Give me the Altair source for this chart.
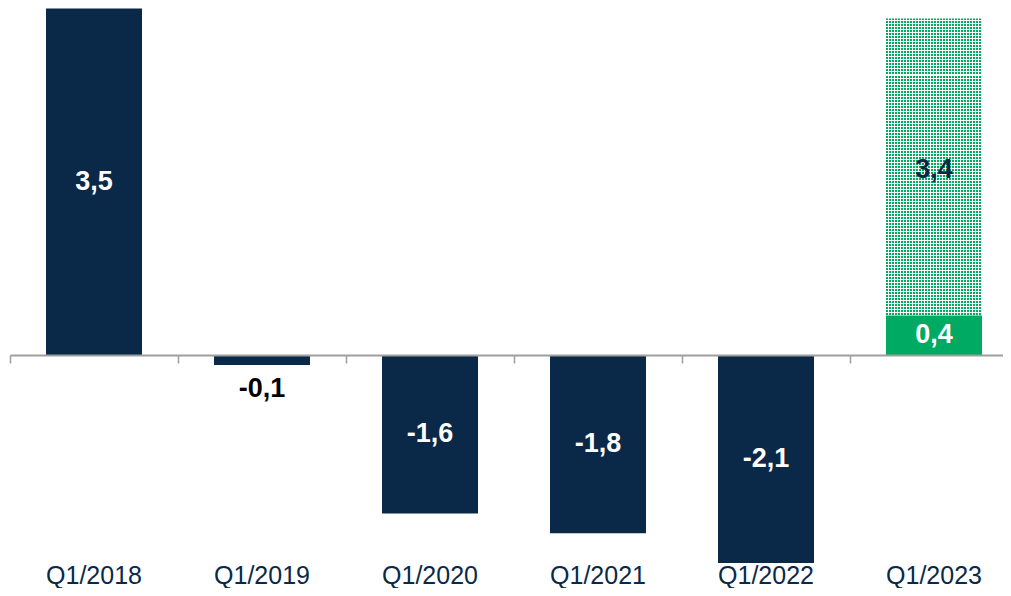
import altair as alt
import pandas as pd

# ---- data ----
categories = ["Q1/2018", "Q1/2019", "Q1/2020", "Q1/2021", "Q1/2022", "Q1/2023"]
values = [3.5, -0.1, -1.6, -1.8, -2.1, 0.4]
kinds = ["past", "past", "past", "past", "past", "latest"]
forecast_categories = ["Q1/2023"]
forecast_values = [3.4]

NAVY = "#0A2948"
GREEN = "#00AA63"
AXIS_GRAY = "#9E9E9E"
FONT = "Liberation Sans"


def fmt(v):
    return f"{v:.1f}".replace(".", ",")


df = pd.DataFrame({
    "cat": categories,
    "value": values,
    "kind": kinds,
    "label": [fmt(v) for v in values],
})
fc = pd.DataFrame({
    "cat": forecast_categories,
    "value": forecast_values,
    "base": [values[categories.index(c)] for c in forecast_categories],
    "label": [fmt(v) for v in forecast_values],
})

W, H = 995, 580
ZERO_Y = 347
PX_PER_UNIT = 99
x_scale = alt.Scale(domain=categories, range=[2, 1010], paddingInner=0, paddingOuter=0)
y_scale = alt.Scale(domain=[-(H - ZERO_Y) / PX_PER_UNIT, ZERO_Y / PX_PER_UNIT], nice=False, zero=False)
BAR_W = alt.RelativeBandSize(band=96 / 168)

label_axis = alt.Axis(orient="bottom", domain=False, ticks=False, tickSize=0,
                      labelPadding=0, labelBaseline="alphabetic", offset=-5,
                      labelFont=FONT, labelFontSize=25, labelColor=NAVY,
                      labelAngle=0, title=None, grid=False)
zero_axis = alt.Axis(orient="bottom", offset=ZERO_Y - H, labels=False, domain=True,
                     domainColor=AXIS_GRAY, domainWidth=2, ticks=True, tickSize=8,
                     tickColor=AXIS_GRAY, tickWidth=1.5, bandPosition=0,
                     title=None, grid=False, zindex=1)

# dotted pattern = vertical green stripes crossed by horizontal white stripes
nx, ny = 32, 112
frac = 2 / 3
vstops = []
for i in range(nx):
    a, b, c = i / nx, (i + frac) / nx, (i + 1) / nx
    vstops += [alt.GradientStop(offset=a, color=GREEN), alt.GradientStop(offset=b, color=GREEN),
               alt.GradientStop(offset=b, color="#ffffff"), alt.GradientStop(offset=c, color="#ffffff")]
hstops = []
for j in range(ny):
    a, b, c = j / ny, (j + frac) / ny, (j + 1) / ny
    hstops += [alt.GradientStop(offset=a, color="rgba(255,255,255,0)"),
               alt.GradientStop(offset=b, color="rgba(255,255,255,0)"),
               alt.GradientStop(offset=b, color="#ffffff"), alt.GradientStop(offset=c, color="#ffffff")]
vgrad = alt.LinearGradient(gradient="linear", x1=0, x2=1, y1=0, y2=0, stops=vstops)
hgrad = alt.LinearGradient(gradient="linear", x1=0, x2=0, y1=0, y2=1, stops=hstops)

fc_base = alt.Chart(fc).transform_calculate(zero="0")
dots_v = fc_base.mark_bar(width=BAR_W, fill=vgrad, strokeWidth=0).encode(
    x=alt.X("cat:N", scale=x_scale, axis=None),
    y=alt.Y("value:Q", scale=y_scale, axis=None),
    y2="zero:Q",
)
dots_h = fc_base.mark_bar(width=BAR_W, fill=hgrad, strokeWidth=0).encode(
    x=alt.X("cat:N", scale=x_scale, axis=None),
    y=alt.Y("value:Q", scale=y_scale, axis=None),
    y2="zero:Q",
)

base = alt.Chart(df).transform_calculate(zero="0", mid="datum.value / 2")
bars = base.mark_bar(width=BAR_W, strokeWidth=0).encode(
    x=alt.X("cat:N", scale=x_scale, axis=label_axis),
    y=alt.Y("value:Q", scale=y_scale, axis=None),
    y2="zero:Q",
    color=alt.Color("kind:N", scale=alt.Scale(domain=["past", "latest"], range=[NAVY, GREEN]), legend=None),
)
inside = base.transform_filter("abs(datum.value) >= 0.3").mark_text(
    font=FONT, fontSize=27, fontWeight="bold", color="white", baseline="middle"
).encode(
    x=alt.X("cat:N", scale=x_scale, axis=zero_axis),
    y=alt.Y("mid:Q", scale=y_scale, axis=None),
    text="label:N",
)
outside = base.transform_filter("abs(datum.value) < 0.3").mark_text(
    font=FONT, fontSize=27, fontWeight="bold", color="black", baseline="top", dy=11
).encode(
    x=alt.X("cat:N", scale=x_scale, axis=None),
    y=alt.Y("value:Q", scale=y_scale, axis=None),
    text="label:N",
)
fc_text = fc_base.transform_calculate(mid="(datum.base + datum.value) / 2").mark_text(
    font=FONT, fontSize=27, fontWeight="bold", color=NAVY, baseline="middle", dy=3
).encode(
    x=alt.X("cat:N", scale=x_scale, axis=None),
    y=alt.Y("mid:Q", scale=y_scale, axis=None),
    text="label:N",
)

chart = alt.layer(dots_v, dots_h, bars, inside, outside, fc_text).resolve_axis(
    x="independent"
).properties(
    width=W, height=H, autosize=alt.AutoSizeParams(type="none"), padding=0,
    background="white",
).configure_view(strokeWidth=0, stroke="transparent")

chart.save("out.html", embed_options={"renderer": "svg", "actions": False})
